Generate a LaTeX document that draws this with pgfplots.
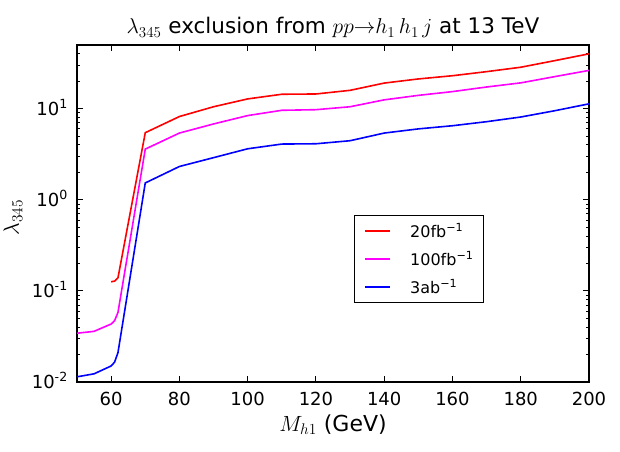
\RequirePackage{fix-cm}
\documentclass[border=0pt]{standalone}
\usepackage{fontspec}
\setmainfont{DejaVu Sans}
\usepackage{pgfplots}
\pgfplotsset{compat=1.18}
\definecolor{mag}{RGB}{255,0,255}
\definecolor{rd}{RGB}{255,0,0}
\definecolor{bl}{RGB}{0,0,255}
\begin{document}
\begin{tikzpicture}
\begin{axis}[
  name=ax,
  scale only axis, width=512pt, height=337pt,
  ymode=log, xmin=50, xmax=200, ymin=0.01, ymax=50,
  xtick={60,80,100,120,140,160,180,200},
  ytick={0.01,0.1,1,10},
  yticklabels={10\textsuperscript{-2},10\textsuperscript{-1},10\textsuperscript{0},10\textsuperscript{1}},
  minor ytick={0.02,0.03,0.04,0.05,0.06,0.07,0.08,0.09,0.2,0.3,0.4,0.5,0.6,0.7,0.8,0.9,2,3,4,5,6,7,8,9,20,30,40},
  tick align=inside,
  major tick length=6.5pt, minor tick length=3.5pt,
  every tick/.style={black, line width=0.9pt},
  axis line style={line width=1.2pt},
  xticklabel style={font=\fontsize{18}{20}\selectfont, /pgf/number format/assume math mode=true, anchor=north, inner sep=0pt, text height=13pt, text depth=0pt, yshift=-10pt},
  yticklabel style={font=\fontsize{18}{20}\selectfont, anchor=east, inner sep=0pt, text height=13pt, text depth=0pt, xshift=-9pt},
  title={$\lambda_{345}$ exclusion from $pp{\rightarrow}h_1\,h_1\,j$ at 13 TeV},
  every axis title/.style={font=\fontsize{21.5}{24}\selectfont, at={(axis description cs:0.5,1.033)}, anchor=base, inner sep=0pt},
  xlabel={$M_{h1}$ (GeV)},
  every axis x label/.style={font=\fontsize{22}{24}\selectfont, at={(axis description cs:0.5,-0.1454)}, anchor=base, inner sep=0pt},
  ylabel={$\lambda_{345}$},
  every axis y label/.style={font=\fontsize{22}{24}\selectfont, at={(axis description cs:-0.125,0.488)}, rotate=90, anchor=center, inner sep=0pt},
  legend style={at={(axis description cs:0.541,0.4955)}, anchor=north west,
    draw=black, line width=1.2pt, inner xsep=10pt, inner ysep=9.5pt,
    font=\fontsize{16}{18}\selectfont, row sep=16pt,
    nodes={inner sep=0pt, text height=12pt, text depth=0pt},
    /tikz/every odd column/.append style={column sep=19pt}},
  legend cell align=left,
  legend image code/.code={\draw[#1, line width=1.6pt] (0pt,0pt) -- (25pt,0pt);},
]
\addplot[rd, line width=1.6pt] coordinates {
(60,0.126) (61,0.128) (62,0.139) (70,5.45) (80,8.2) (90,10.5) (100,12.8) (110,14.4) (120,14.5) (130,15.9) (140,19.1) (150,21.2) (160,23.0) (170,25.5) (180,28.5) (190,33.7) (200,40)};
\addlegendentry{20fb\textsuperscript{−1}}
\addplot[mag, line width=1.6pt] coordinates {
(50,0.0343) (55,0.036) (60,0.0433) (61,0.047) (62,0.058) (70,3.6) (80,5.4) (90,6.8) (100,8.4) (110,9.6) (120,9.75) (130,10.5) (140,12.5) (150,14.0) (160,15.4) (170,17.3) (180,19.2) (190,22.5) (200,26.3)};
\addlegendentry{100fb\textsuperscript{−1}}
\addplot[bl, line width=1.6pt] coordinates {
(50,0.0114) (55,0.0123) (60,0.015) (61,0.0165) (62,0.021) (70,1.53) (80,2.32) (90,2.9) (100,3.63) (110,4.09) (120,4.12) (130,4.45) (140,5.4) (150,6.0) (160,6.5) (170,7.2) (180,8.1) (190,9.5) (200,11.3)};
\addlegendentry{3ab\textsuperscript{−1}}
\end{axis}
\pgfresetboundingbox
\path[use as bounding box] ([xshift=-77pt,yshift=-69pt]ax.south west) rectangle ([xshift=31pt,yshift=45pt]ax.north east);
\end{tikzpicture}
\end{document}
